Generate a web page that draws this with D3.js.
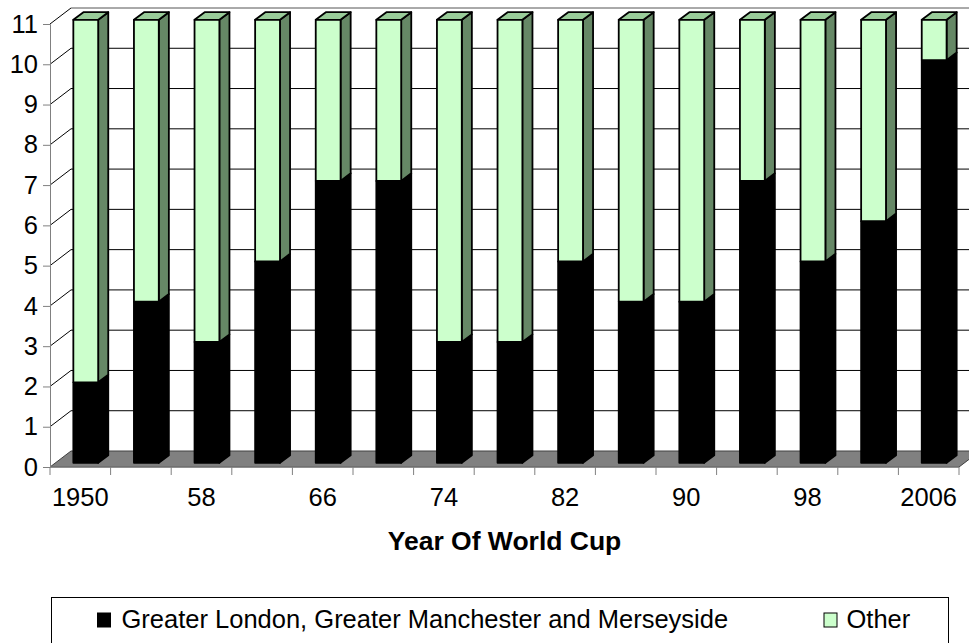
<!DOCTYPE html>
<html>
<head>
<meta charset="utf-8">
<script src="https://cdn.jsdelivr.net/npm/d3@7"></script>
<style>
  html, body { margin: 0; padding: 0; background: #fff; }
  svg { display: block; font-family: "Liberation Sans", Arial, sans-serif; }
</style>
</head>
<body>
<svg id="chart" width="969" height="643"></svg>
<script>
// World Cup years (category axis) and the squad counts per region group
const categories = ["1950","54","58","62","66","70","74","78","82","86","90","94","98","02","2006"];
const londonManchesterMerseyside = [2, 4, 3, 5, 7, 7, 3, 3, 5, 4, 4, 7, 5, 6, 10];
const other = [9, 7, 8, 6, 4, 4, 8, 8, 6, 7, 7, 4, 6, 5, 1];
const yTicks = [0, 1, 2, 3, 4, 5, 6, 7, 8, 9, 10, 11];
const seriesNames = ["Greater London, Greater Manchester and Merseyside", "Other"];
const xTitle = "Year Of World Cup";

const svg = d3.select("#chart");

// Front plane of the 3-D plot box, plus the oblique depth vector
const x = d3.scaleBand().domain(categories).range([50, 959]).paddingInner(0).paddingOuter(0);
const y = d3.scaleLinear().domain([0, 11]).range([467, 24]);
const depth = { dx: 21, dy: -16 };
const barFront = 0.26, barBack = 0.74;   // fractions of the depth the columns occupy
const barWidthFrac = 0.41;

const colors = {
  seriesFront: ["#000000", "#ccffcc"],
  seriesSide:  ["#000000", "#668866"],
  seriesTop:   ["#000000", "#99cc99"],
  floor: "#808080",
  axis: "#808080",
  grid: "#000000"
};
const tickFont = 25.5;

// Back-wall gridlines and their diagonals across the left wall
const grid = svg.append("g");
yTicks.filter(v => v > 0).forEach(v => {
  const yy = y(v);
  grid.append("line")
    .attr("x1", x.range()[0]).attr("y1", yy)
    .attr("x2", x.range()[0] + depth.dx).attr("y2", yy + depth.dy)
    .attr("stroke", colors.grid).attr("stroke-width", 1);
  grid.append("line")
    .attr("x1", x.range()[0] + depth.dx).attr("y1", yy + depth.dy)
    .attr("x2", x.range()[1] + depth.dx).attr("y2", yy + depth.dy)
    .attr("stroke", v === 11 ? "#555" : colors.grid).attr("stroke-width", 1);
});

// Floor
const x0 = x.range()[0], x1 = x.range()[1], y0 = y(0);
svg.append("path")
  .attr("d", `M${x0},${y0}L${x1},${y0}L${x1 + depth.dx},${y0 + depth.dy}L${x0 + depth.dx},${y0 + depth.dy}Z`)
  .attr("fill", colors.floor).attr("stroke", "#404040").attr("stroke-width", 1);

// Value axis (front-left edge)
const yAxis = d3.axisLeft(y).tickValues(yTicks).tickSize(7).tickPadding(5).tickFormat(d3.format("d"));
const yg = svg.append("g").attr("transform", `translate(${x0},0)`).call(yAxis);
yg.select(".domain").attr("stroke", colors.axis);
yg.selectAll(".tick line").attr("stroke", colors.axis);
yg.selectAll(".tick text").attr("font-size", tickFont).attr("fill", "#000")
  .attr("font-family", "Liberation Sans, Arial, sans-serif");

// Category axis: ticks between categories, labels on every other category
const xg = svg.append("g").attr("transform", `translate(0,${y0})`);
xg.append("line").attr("x1", x0).attr("x2", x1).attr("y1", 0).attr("y2", 0)
  .attr("stroke", colors.axis);
const boundaries = categories.map(c => x(c)).concat([x1]);
xg.selectAll("line.tk").data(boundaries).join("line").attr("class", "tk")
  .attr("x1", d => d).attr("x2", d => d).attr("y1", 0).attr("y2", 8)
  .attr("stroke", colors.axis);
xg.selectAll("text").data(categories.filter((c, i) => i % 2 === 0)).join("text")
  .attr("x", d => x(d) + x.bandwidth() / 2).attr("y", 39)
  .attr("text-anchor", "middle").attr("font-size", tickFont).text(d => d);

svg.append("text")
  .attr("x", (x0 + x1) / 2).attr("y", 550)
  .attr("text-anchor", "middle").attr("font-size", 26.5).attr("font-weight", "bold")
  .text(xTitle);

// Stacked 3-D columns
const stackData = categories.map((c, i) => ({ cat: c, s0: londonManchesterMerseyside[i], s1: other[i] }));
const stack = d3.stack().keys(["s0", "s1"])(stackData);

const fx = barFront * depth.dx, fy = barFront * depth.dy;
const bx = barBack * depth.dx, by = barBack * depth.dy;
const bw = x.bandwidth() * barWidthFrac;

const bars = svg.append("g");
categories.forEach((c, i) => {
  const cx = x(c) + x.bandwidth() / 2;
  const xl = cx - bw / 2, xr = cx + bw / 2;
  stack.forEach((layer, si) => {
    const [v0, v1] = layer[i];
    if (v1 - v0 <= 0) return;
    const yb = y(v0), yt = y(v1);
    const g = bars.append("g").attr("stroke", "#000").attr("stroke-width", 1.8)
      .attr("stroke-linejoin", "round");
    // side face
    g.append("path")
      .attr("d", `M${xr + fx},${yt + fy}L${xr + bx},${yt + by}L${xr + bx},${yb + by}L${xr + fx},${yb + fy}Z`)
      .attr("fill", colors.seriesSide[si]);
    // top face (visible only on the upper segment)
    if (si === stack.length - 1) {
      g.append("path")
        .attr("d", `M${xl + fx},${yt + fy}L${xr + fx},${yt + fy}L${xr + bx},${yt + by}L${xl + bx},${yt + by}Z`)
        .attr("fill", colors.seriesTop[si]);
    }
    // front face
    g.append("rect")
      .attr("x", xl + fx).attr("y", yt + fy)
      .attr("width", bw).attr("height", yb - yt)
      .attr("fill", colors.seriesFront[si]);
  });
});

// Legend
const legend = svg.append("g");
legend.append("rect").attr("x", 51.5).attr("y", 597.5).attr("width", 897).attr("height", 60)
  .attr("fill", "#fff").attr("stroke", "#000").attr("stroke-width", 1);
const legendItems = [
  { name: seriesNames[0], sx: 97.5, tx: 121.5, fill: colors.seriesFront[0] },
  { name: seriesNames[1], sx: 824, tx: 846.5, fill: colors.seriesFront[1] }
];
legendItems.forEach(it => {
  legend.append("rect").attr("x", it.sx).attr("y", 613).attr("width", 13).attr("height", 14)
    .attr("fill", it.fill).attr("stroke", "#000").attr("stroke-width", 1);
  legend.append("text").attr("x", it.tx).attr("y", 628).attr("font-size", 25.5).text(it.name);
});
</script>
</body>
</html>
